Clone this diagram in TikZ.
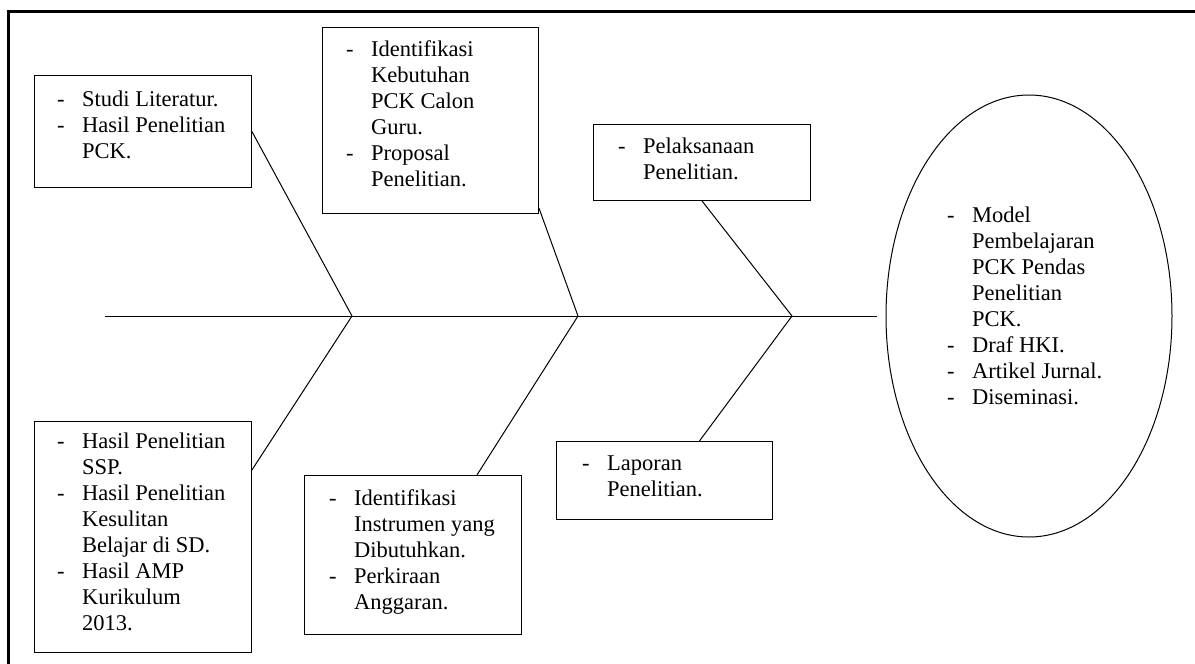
\documentclass[tikz,border=0pt]{standalone}
\usepackage{fontspec}
\setmainfont{Liberation Serif}
\usetikzlibrary{shapes.geometric}
\begin{document}
\begin{tikzpicture}[x=1pt,y=-1pt,
  box/.style={draw, line width=0.9pt, inner sep=0pt, anchor=north west},
  lst/.style={anchor=base west, inner sep=0pt, font=\fontsize{22.5}{26}\selectfont},
  bone/.style={line width=1pt}]
\newcommand{\itm}[1]{\begin{tabular}[t]{@{}p{25pt}@{}l@{}}#1\end{tabular}}
\useasboundingbox (0,0) rectangle (1195,664);
\begin{scope}
\clip (0,0) rectangle (1195,664);
\draw[line width=3pt] (8,700) -- (8,11) -- (1210,11);
\end{scope}
% boxes
\node[box, minimum width=217pt, minimum height=112pt] (b1) at (34,75) {};
\node[box, minimum width=216pt, minimum height=186pt] (b2) at (322,27) {};
\node[box, minimum width=217pt, minimum height=76pt] (b3) at (593,124) {};
\node[box, minimum width=217pt, minimum height=231pt] (b4) at (34,421) {};
\node[box, minimum width=217pt, minimum height=159pt] (b5) at (304,475) {};
\node[box, minimum width=216pt, minimum height=78pt] (b6) at (556,441) {};
\node[draw, line width=1pt, ellipse, inner sep=0pt, minimum width=286pt, minimum height=442pt] (res) at (1029,316) {};
% texts
\node[lst] (t1) at (57,106) {\itm{- & Studi Literatur.\\ - & Hasil Penelitian\\ & PCK.}};
\node[lst] (t2) at (346,56) {\itm{- & Identifikasi\\ & Kebutuhan\\ & PCK Calon\\ & Guru.\\ - & Proposal\\ & Penelitian.}};
\node[lst] (t3) at (618,153) {\itm{- & Pelaksanaan\\ & Penelitian.}};
\node[lst] (t4) at (57,448) {\itm{- & Hasil Penelitian\\ & SSP.\\ - & Hasil Penelitian\\ & Kesulitan\\ & Belajar di SD.\\ - & Hasil AMP\\ & Kurikulum\\ & 2013.}};
\node[lst] (t5) at (329,505) {\itm{- & Identifikasi\\ & Instrumen yang\\ & Dibutuhkan.\\ - & Perkiraan\\ & Anggaran.}};
\node[lst] (t6) at (582,470) {\itm{- & Laporan\\ & Penelitian.}};
\node[lst] (t7) at (947,222) {\itm{- & Model\\ & Pembelajaran\\ & PCK Pendas\\ & Penelitian\\ & PCK.\\ - & Draf HKI.\\ - & Artikel Jurnal.\\ - & Diseminasi.}};
% spine
\coordinate (s0) at (105,316);
\coordinate (s1) at (877,316);
\coordinate (j1) at (352,316);
\coordinate (j2) at (578,316);
\coordinate (j3) at (792,316);
\draw[bone] (s0) -- (s1);
\draw[bone] (b1.east) -- (j1);
\draw[bone] ([yshift=6pt]b2.south east) -- (j2);
\draw[bone] (b3.south) -- (j3);
\draw[bone] ([yshift=-49pt]b4.north east) -- (j1);
\draw[bone] ([xshift=64pt]b5.north) -- (j2);
\draw[bone] ([xshift=35pt]b6.north) -- (j3);
\end{tikzpicture}
\end{document}
